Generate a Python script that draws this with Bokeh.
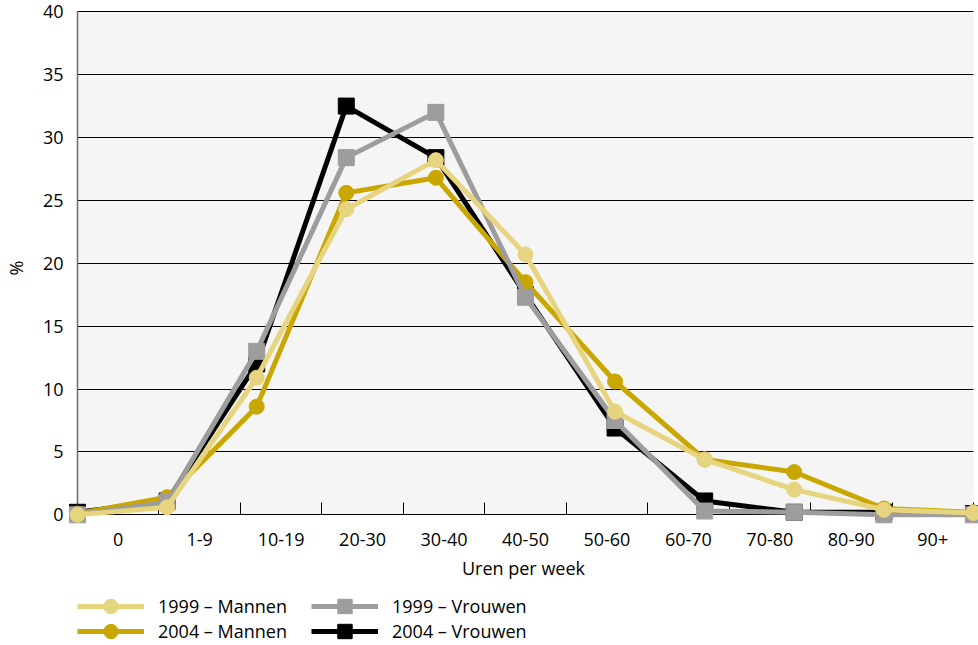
from bokeh.plotting import figure
from bokeh.layouts import column
from bokeh.models import Range1d, FixedTicker, Legend, LegendItem, BoxAnnotation, Grid
from bokeh.embed import file_html
from bokeh.resources import INLINE

# ---- data ----
categories = ["0", "1-9", "10-19", "20-30", "30-40", "40-50",
              "50-60", "60-70", "70-80", "80-90", "90+"]
y_ticks = [0, 5, 10, 15, 20, 25, 30, 35, 40]

mannen_1999 = [0.0, 0.6, 10.9, 24.3, 28.2, 20.7, 8.2, 4.4, 2.0, 0.4, 0.15]
mannen_2004 = [0.1, 1.4, 8.6, 25.6, 26.8, 18.5, 10.6, 4.4, 3.4, 0.5, 0.2]
vrouwen_1999 = [0.0, 1.0, 13.0, 28.4, 32.0, 17.3, 7.5, 0.3, 0.2, 0.0, 0.0]
vrouwen_2004 = [0.2, 1.1, 12.0, 32.5, 28.4, 17.5, 6.9, 1.1, 0.2, 0.2, 0.1]

labels = ["1999 \u2013 Mannen", "2004 \u2013 Mannen", "1999 \u2013 Vrouwen", "2004 \u2013 Vrouwen"]

# ---- style ----
FONT = "Open Sans"
FS = "18px"
C_M99 = "#e6d47f"
C_M04 = "#c9a600"
C_V99 = "#9d9d9d"
C_V04 = "#000000"

n = len(categories)
bin_w = n - 1
x_pts = [i * n for i in range(n)]
boundaries = [k * bin_w for k in range(n + 1)]
centers = [k * bin_w + bin_w // 2 for k in range(n)]
x_max = boundaries[-1]
y_min, y_max = y_ticks[0], y_ticks[-1]

FRAME_W, FRAME_H = 912, 515
x_lo, x_hi = -1.228, 110.74
y_lo, y_hi = -0.85, 40.1
tick_len = 12 * (y_hi - y_lo) / FRAME_H   # 12 px inward tick marks

p = figure(frame_width=FRAME_W, frame_height=FRAME_H,
           min_border_left=58, min_border_right=0, min_border_top=10, min_border_bottom=66,
           x_range=Range1d(x_lo, x_hi), y_range=Range1d(y_lo, y_hi),
           output_backend="svg", toolbar_location=None,
           background_fill_color="white", border_fill_color="white",
           outline_line_color=None)

# plot area background
p.add_layout(BoxAnnotation(left=0, right=x_max, bottom=y_min, top=y_max,
                           fill_color="#f5f5f5", fill_alpha=1, line_color=None,
                           level="image"))

# horizontal gridlines (the one at 0 is the x axis line)
p.xgrid.visible = False
p.ygrid.ticker = FixedTicker(ticks=y_ticks)
p.ygrid.grid_line_color = "black"
p.ygrid.grid_line_width = 1
p.ygrid.cross_bounds = (0, x_max)

# category boundary tick marks, pointing up from the 0 line
p.add_layout(Grid(dimension=0, ticker=FixedTicker(ticks=boundaries),
                  cross_bounds=(0, tick_len), grid_line_color="black", grid_line_width=1))
# y axis line
p.add_layout(Grid(dimension=0, ticker=FixedTicker(ticks=[0]),
                  cross_bounds=(y_min, y_max), grid_line_color="#6a6a6a", grid_line_width=1.5))

xa = p.xaxis[0]
xa.ticker = FixedTicker(ticks=centers)
xa.major_label_overrides = {c: lab for c, lab in zip(centers, categories)}
xa.axis_line_color = None
xa.major_tick_in = 0
xa.major_tick_out = 0
xa.minor_tick_in = 0
xa.minor_tick_out = 0
xa.major_label_standoff = 7
xa.major_label_text_font = FONT
xa.major_label_text_font_size = FS
xa.major_label_text_color = "black"
xa.axis_label = "Uren per week"
xa.axis_label_standoff = 7
xa.axis_label_text_font = FONT
xa.axis_label_text_font_size = FS
xa.axis_label_text_font_style = "normal"
xa.axis_label_text_color = "black"

ya = p.yaxis[0]
ya.ticker = FixedTicker(ticks=y_ticks)
ya.axis_line_color = None
ya.major_tick_in = 0
ya.major_tick_out = 0
ya.minor_tick_in = 0
ya.minor_tick_out = 0
ya.major_label_standoff = 4
ya.major_label_text_font = FONT
ya.major_label_text_font_size = FS
ya.major_label_text_color = "black"
ya.axis_label = "%"
ya.axis_label_standoff = 12
ya.axis_label_text_font = FONT
ya.axis_label_text_font_size = FS
ya.axis_label_text_font_style = "normal"
ya.axis_label_text_color = "black"

series = [
    (vrouwen_2004, C_V04, "square", 16, labels[3]),
    (mannen_2004, C_M04, "circle", 15, labels[1]),
    (vrouwen_1999, C_V99, "square", 16, labels[2]),
    (mannen_1999, C_M99, "circle", 15, labels[0]),
]
for vals, col, mk, sz, lab in series:
    p.line(x_pts, vals, line_color=col, line_width=5, line_join="round")
    p.scatter(x_pts, vals, marker=mk, size=sz, fill_color=col, line_color=col)

# ---- legend strip (separate figure holding the legend) ----
leg_fig = figure(width=970, height=53, min_border=0,
                 x_range=Range1d(-1000, -999), y_range=Range1d(-1000, -999),
                 x_axis_location=None, y_axis_location=None,
                 output_backend="svg", toolbar_location=None,
                 background_fill_color="white", border_fill_color="white",
                 outline_line_color=None)
leg_fig.grid.visible = False
rend = {}
for vals, col, mk, sz, lab in series:
    ln = leg_fig.line(x_pts, vals, line_color=col, line_width=5)
    sc = leg_fig.scatter(x_pts, vals, marker=mk, size=sz, fill_color=col, line_color=col)
    rend[lab] = [ln, sc]

positions = {
    labels[0]: (10, 20),
    labels[1]: (10, -5),
    labels[2]: (244, 20),
    labels[3]: (244, -5),
}
for lab, loc in positions.items():
    leg = Legend(items=[LegendItem(label=lab, renderers=rend[lab])],
                 location=loc, orientation="vertical", padding=0, margin=0, spacing=0,
                 glyph_width=67, glyph_height=36, label_standoff=14,
                 label_text_font=FONT, label_text_font_size=FS, label_text_color="black",
                 border_line_color=None, background_fill_alpha=0)
    leg_fig.add_layout(leg)

layout = column(p, leg_fig, spacing=0)
open("out.html", "w").write(file_html(layout, INLINE))
